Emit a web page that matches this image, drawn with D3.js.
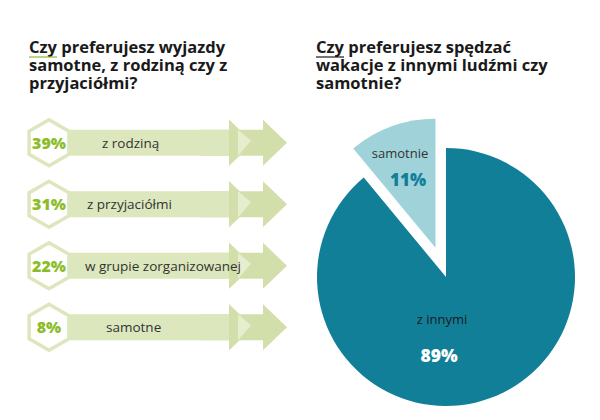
<!DOCTYPE html>
<html>
<head>
<meta charset="utf-8">
<script src="https://cdn.jsdelivr.net/npm/d3@7"></script>
<style>
  body { margin: 0; background: #fff; }
  text { font-family: "Open Sans", "DejaVu Sans", sans-serif; }
</style>
</head>
<body>
<svg id="chart" width="600" height="420"></svg>
<script>
// left panel: travel company
const leftTitle = ['Czy preferujesz wyjazdy', 'samotne, z rodziną czy z', 'przyjaciółmi?'];
const companyLabels = ['z rodziną', 'z przyjaciółmi', 'w grupie zorganizowanej', 'samotne'];
const companyValues = [39, 31, 22, 8];

// right panel: with others vs alone
const rightTitle = ['Czy preferujesz spędzać', 'wakacje z innymi ludźmi czy', 'samotnie?'];
const pieLabels = ['z innymi', 'samotnie'];
const pieValues = [89, 11];

const svg = d3.select('#chart');
const green = '#8bbd2a', pale = '#dde7bd', head = '#d3dfaa';
const teal = '#127f99', lightTeal = '#9fd3d9';

function title(lines, x, color) {
  svg.append('g').selectAll('text')
    .data(lines)
    .join('text')
    .attr('x', x).attr('y', (d, i) => 53 + i * 18)
    .attr('font-size', 16.5).attr('font-weight', 'bold').attr('fill', '#1a1a1a')
    .text(d => d);
  svg.append('line')
    .attr('x1', x).attr('x2', x + 28).attr('y1', 57).attr('y2', 57)
    .attr('stroke', color).attr('stroke-width', 1.2);
}
title(leftTitle, 29, green);
title(rightTitle, 316, '#1a1a1a');

// ---- left: arrows with hexagon badges
const y = d3.scaleBand()
  .domain(companyLabels)
  .range([112, 358])
  .paddingInner(0);

const rows = svg.append('g').selectAll('g')
  .data(companyLabels.map((l, i) => ({label: l, value: companyValues[i]})))
  .join('g')
  .attr('transform', d => `translate(0,${y(d.label) + y.bandwidth() / 2})`);

const barH = 13, headH = 23;
// rear arrow
rows.append('path')
  .attr('d', `M200,${-barH}H263V${-headH}L287,0L263,${headH}V${barH}H200Z`)
  .attr('fill', head);
// main arrow
rows.append('path')
  .attr('d', `M60,${-barH}H229V${-headH}L253,0L229,${headH}V${barH}H60Z`)
  .attr('fill', pale);
rows.append('path')
  .attr('d', `M229,${-headH}L253,0L229,${headH}Z`)
  .attr('fill', head);
rows.append('path')
  .attr('d', `M238,${-barH}L251,-2L238,${barH}Z`)
  .attr('fill', '#e6eecf');

const hex = d3.range(6).map(k => {
  const a = Math.PI / 3 * k - Math.PI / 2;
  return [49 + 23 * Math.cos(a), 23 * Math.sin(a)];
});
rows.append('polygon')
  .attr('points', hex.map(p => p.join(',')).join(' '))
  .attr('fill', '#fff')
  .attr('stroke', pale)
  .attr('stroke-width', 3.5);

rows.append('text')
  .attr('x', 49).attr('y', 6)
  .attr('text-anchor', 'middle')
  .attr('font-size', 16).attr('font-weight', 800).attr('fill', green)
  .text(d => d.value + '%');

const labelX = {'z rodziną': 102, 'z przyjaciółmi': 87, 'w grupie zorganizowanej': 85, 'samotne': 106};
rows.append('text')
  .attr('x', d => labelX[d.label]).attr('y', 5)
  .attr('font-size', 13.5).attr('fill', '#333')
  .text(d => d.label);

// ---- right: pie
const cx = 446, cy = 277, r = 129;
const pie = d3.pie().sort(null).startAngle(0).endAngle(2 * Math.PI);
const arcs = pie(pieValues);
const arc = d3.arc().innerRadius(0).outerRadius(r);
const g = svg.append('g').attr('transform', `translate(${cx},${cy})`);
const explode = 31;

g.selectAll('path')
  .data(arcs)
  .join('path')
  .attr('d', arc)
  .attr('fill', (d, i) => i ? lightTeal : teal)
  .attr('transform', (d, i) => {
    if (!i) return null;
    const m = (d.startAngle + d.endAngle) / 2;
    return `translate(${explode * Math.sin(m)},${-explode * Math.cos(m)})`;
  });

// labels
g.append('text')
  .attr('x', -46).attr('y', -119)
  .attr('text-anchor', 'middle').attr('font-size', 13).attr('fill', '#333')
  .text(pieLabels[1]);
g.append('text')
  .attr('x', -38).attr('y', -91)
  .attr('text-anchor', 'middle').attr('font-size', 17).attr('font-weight', 800).attr('fill', teal)
  .text(pieValues[1] + '%');
g.append('text')
  .attr('x', -4).attr('y', 47)
  .attr('text-anchor', 'middle').attr('font-size', 13).attr('fill', '#1a1a1a')
  .text(pieLabels[0]);
g.append('text')
  .attr('x', -7).attr('y', 85)
  .attr('text-anchor', 'middle').attr('font-size', 17.5).attr('font-weight', 800).attr('fill', '#fff')
  .text(pieValues[0] + '%');
</script>
</body>
</html>
